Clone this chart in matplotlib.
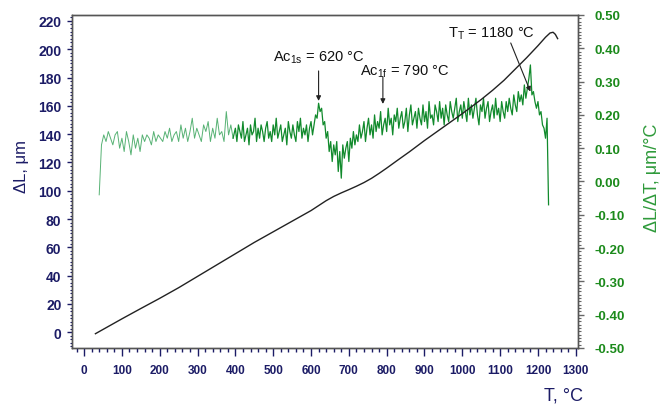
import numpy as np
import matplotlib
matplotlib.use("Agg")
import matplotlib.pyplot as plt
from matplotlib.ticker import MultipleLocator, FormatStrFormatter

plt.rcParams["font.family"] = ["Liberation Sans", "DejaVu Sans"]
plt.rcParams["mathtext.fontset"] = "custom"
plt.rcParams["mathtext.rm"] = "Liberation Sans"

NAVY = "#1c1c66"
GREEN = "#1b8a1b"

# dilatometer curve, delta L (um) vs temperature (C)
temp_dl = [30, 60, 100, 150, 200, 250, 300, 350, 400, 450, 500, 550, 600,
           620, 640, 660, 680, 700, 720, 740, 760, 780, 800, 830, 860, 900,
           950, 1000, 1050, 1080, 1110, 1140, 1170, 1200, 1220, 1232, 1240,
           1246, 1252]
delta_l = [-1.0, 3.5, 9.5, 16.8, 24.0, 31.5, 39.5, 47.5, 55.5, 63.5, 71.0,
           78.5, 86.0, 89.5, 93.0, 96.0, 98.5, 100.8, 103.2, 105.8, 108.8,
           112.3, 116.0, 121.8, 127.5, 135.5, 145.0, 154.5, 164.5, 171.0,
           178.0, 186.0, 194.0, 202.5, 208.5, 211.5, 212.0, 210.5, 207.5]

# derivative dL/dT (um/C): coarse sampling up to 394 C, fine sampling after
temp_early = np.arange(40, 400, 6)
dldt_early = [
    -0.04, 0.11, 0.14, 0.12, 0.15, 0.13, 0.11, 0.14, 0.15, 0.10,  # 40
    0.13, 0.09, 0.15, 0.12, 0.08, 0.14, 0.10, 0.13, 0.09, 0.14,   # 100
    0.12, 0.14, 0.13, 0.11, 0.15, 0.12, 0.14, 0.13, 0.12, 0.15,   # 160
    0.13, 0.16, 0.12, 0.14, 0.15, 0.12, 0.17, 0.13, 0.16, 0.12,   # 220
    0.15, 0.19, 0.13, 0.16, 0.14, 0.12, 0.17, 0.15, 0.18, 0.12,   # 280
    0.16, 0.13, 0.19, 0.14, 0.15, 0.12, 0.21, 0.14, 0.17, 0.13,   # 340
]
temp_late = np.arange(400, 1232, 4)
dldt_late = [
    0.16, 0.12, 0.17, 0.15, 0.13, 0.18, 0.12, 0.14, 0.16, 0.11,  # 400
    0.17, 0.14, 0.15, 0.19, 0.12, 0.16, 0.13, 0.17, 0.15, 0.12,  # 440
    0.16, 0.18, 0.13, 0.15, 0.12, 0.17, 0.14, 0.19, 0.13, 0.15,  # 480
    0.17, 0.12, 0.14, 0.16, 0.11, 0.18, 0.15, 0.13, 0.17, 0.14,  # 520
    0.12, 0.18, 0.15, 0.19, 0.13, 0.16, 0.14, 0.17, 0.12, 0.16,  # 560
    0.18, 0.14, 0.17, 0.20, 0.19, 0.235, 0.21, 0.22, 0.17, 0.18,  # 600
    0.13, 0.15, 0.09, 0.12, 0.06, 0.11, 0.08, 0.12, 0.03, 0.09,  # 640
    0.01, 0.11, 0.07, 0.10, 0.12, 0.06, 0.13, 0.10, 0.15, 0.11,  # 680
    0.14, 0.12, 0.17, 0.13, 0.15, 0.18, 0.12, 0.16, 0.19, 0.14,  # 720
    0.17, 0.13, 0.20, 0.15, 0.18, 0.16, 0.21, 0.14, 0.17, 0.19,  # 760
    0.15, 0.22, 0.17, 0.19, 0.14, 0.20, 0.18, 0.22, 0.16, 0.19,  # 800
    0.21, 0.16, 0.18, 0.22, 0.15, 0.20, 0.23, 0.17, 0.19, 0.21,  # 840
    0.16, 0.22, 0.19, 0.17, 0.23, 0.18, 0.21, 0.16, 0.24, 0.19,  # 880
    0.20, 0.17, 0.23, 0.21, 0.18, 0.24, 0.19, 0.22, 0.17, 0.23,  # 920
    0.20, 0.18, 0.24, 0.21, 0.19, 0.22, 0.25, 0.18, 0.21, 0.23,  # 960
    0.19, 0.24, 0.21, 0.18, 0.25, 0.20, 0.23, 0.19, 0.22, 0.25,  # 1000
    0.20, 0.17, 0.23, 0.21, 0.25, 0.19, 0.22, 0.24, 0.18, 0.21,  # 1040
    0.23, 0.19, 0.25, 0.20, 0.22, 0.18, 0.24, 0.21, 0.19, 0.24,  # 1080
    0.21, 0.25, 0.22, 0.20, 0.26, 0.23, 0.21, 0.27, 0.24, 0.26,  # 1120
    0.23, 0.29, 0.25, 0.28, 0.31, 0.35, 0.26, 0.27, 0.24, 0.22,  # 1160
    0.24, 0.20, 0.21, 0.17, 0.16, 0.13, 0.19, -0.07,             # 1200
]

# transformation points: label, temperature, arrow start (T, dL/dT), arrow tip dL/dT, text position
marks = [
    (r"Ac$_{\mathregular{1s}}$ = 620 °C", 620, 620, 0.332, 0.242, 499, 0.376),
    (r"Ac$_{\mathregular{1f}}$ = 790 °C", 790, 790, 0.314, 0.233, 729, 0.332),
    (r"T$_{\mathregular{T}}$ = 1180 °C", 1180, 1128, 0.416, 0.270, 962, 0.447),
]

fig = plt.figure(figsize=(6.64, 4.06), dpi=100)
ax = fig.add_axes([0.1084, 0.1404, 0.7616, 0.8202])
ax2 = ax.twinx()

ax2.plot(temp_early, dldt_early, color="#57b274", lw=0.7)
ax2.plot(np.concatenate([temp_early[-1:], temp_late]),
         [dldt_early[-1]] + dldt_late, color="#118a2c", lw=0.9)

ax.plot(temp_dl, delta_l, color="#222222", lw=1.0)
ax.set_zorder(ax2.get_zorder() + 1)
ax.patch.set_visible(False)

ax.set_xlim(-32, 1305)
ax.set_ylim(-11.1, 224.2)
ax2.set_ylim(-0.5, 0.5)

ax.xaxis.set_major_locator(MultipleLocator(100))
ax.xaxis.set_minor_locator(MultipleLocator(20))
ax.yaxis.set_major_locator(MultipleLocator(20))
ax.yaxis.set_minor_locator(MultipleLocator(2.5))
ax2.yaxis.set_major_locator(MultipleLocator(0.1))
ax2.yaxis.set_minor_locator(MultipleLocator(0.01))
ax2.yaxis.set_major_formatter(FormatStrFormatter("%.2f"))

for a in (ax, ax2):
    for sp in a.spines.values():
        sp.set_color("#555555")
        sp.set_linewidth(1.0)

ax.tick_params(axis="x", which="major", length=5.8, width=1.0, color=NAVY,
               labelsize=8.5, labelcolor=NAVY, pad=6)
ax.tick_params(axis="x", which="minor", length=2.9, width=1.0, color=NAVY)
ax.tick_params(axis="y", which="major", length=3.6, width=1.0, color=NAVY,
               labelsize=10, labelcolor=NAVY, pad=4)
ax.tick_params(axis="y", which="minor", length=1.8, width=0.8, color=NAVY)
ax2.tick_params(axis="y", which="major", length=4.3, width=1.0, color="#666666",
                labelsize=9.5, labelcolor=GREEN, pad=8)
ax2.tick_params(axis="y", which="minor", length=1.8, width=0.8, color="#666666")

for lab in ax.get_xticklabels() + ax.get_yticklabels() + ax2.get_yticklabels():
    lab.set_fontweight("bold")

for text, t_mark, t_start, v_start, v_end, t_text, v_text in marks:
    ax2.annotate("", xy=(t_mark, v_end), xytext=(t_start, v_start),
                 arrowprops=dict(arrowstyle="-|>", color="#222222", lw=0.8,
                                 mutation_scale=7, shrinkA=0, shrinkB=0))
    ax2.text(t_text, v_text, text, fontsize=10.5, ha="left", va="center",
             color="#111111")

fig.text(0.033, 0.591, "ΔL, μm", rotation=90, color=NAVY, fontsize=12,
         ha="center", va="center")
fig.text(0.982, 0.562, "ΔL/ΔT, μm/°C", rotation=90, color="#2e9a3a",
         fontsize=13, ha="center", va="center")
fig.text(0.848, 0.025, "T, °C", color=NAVY, fontsize=13, ha="center",
         va="center")

fig.savefig("out.png", dpi=100)
